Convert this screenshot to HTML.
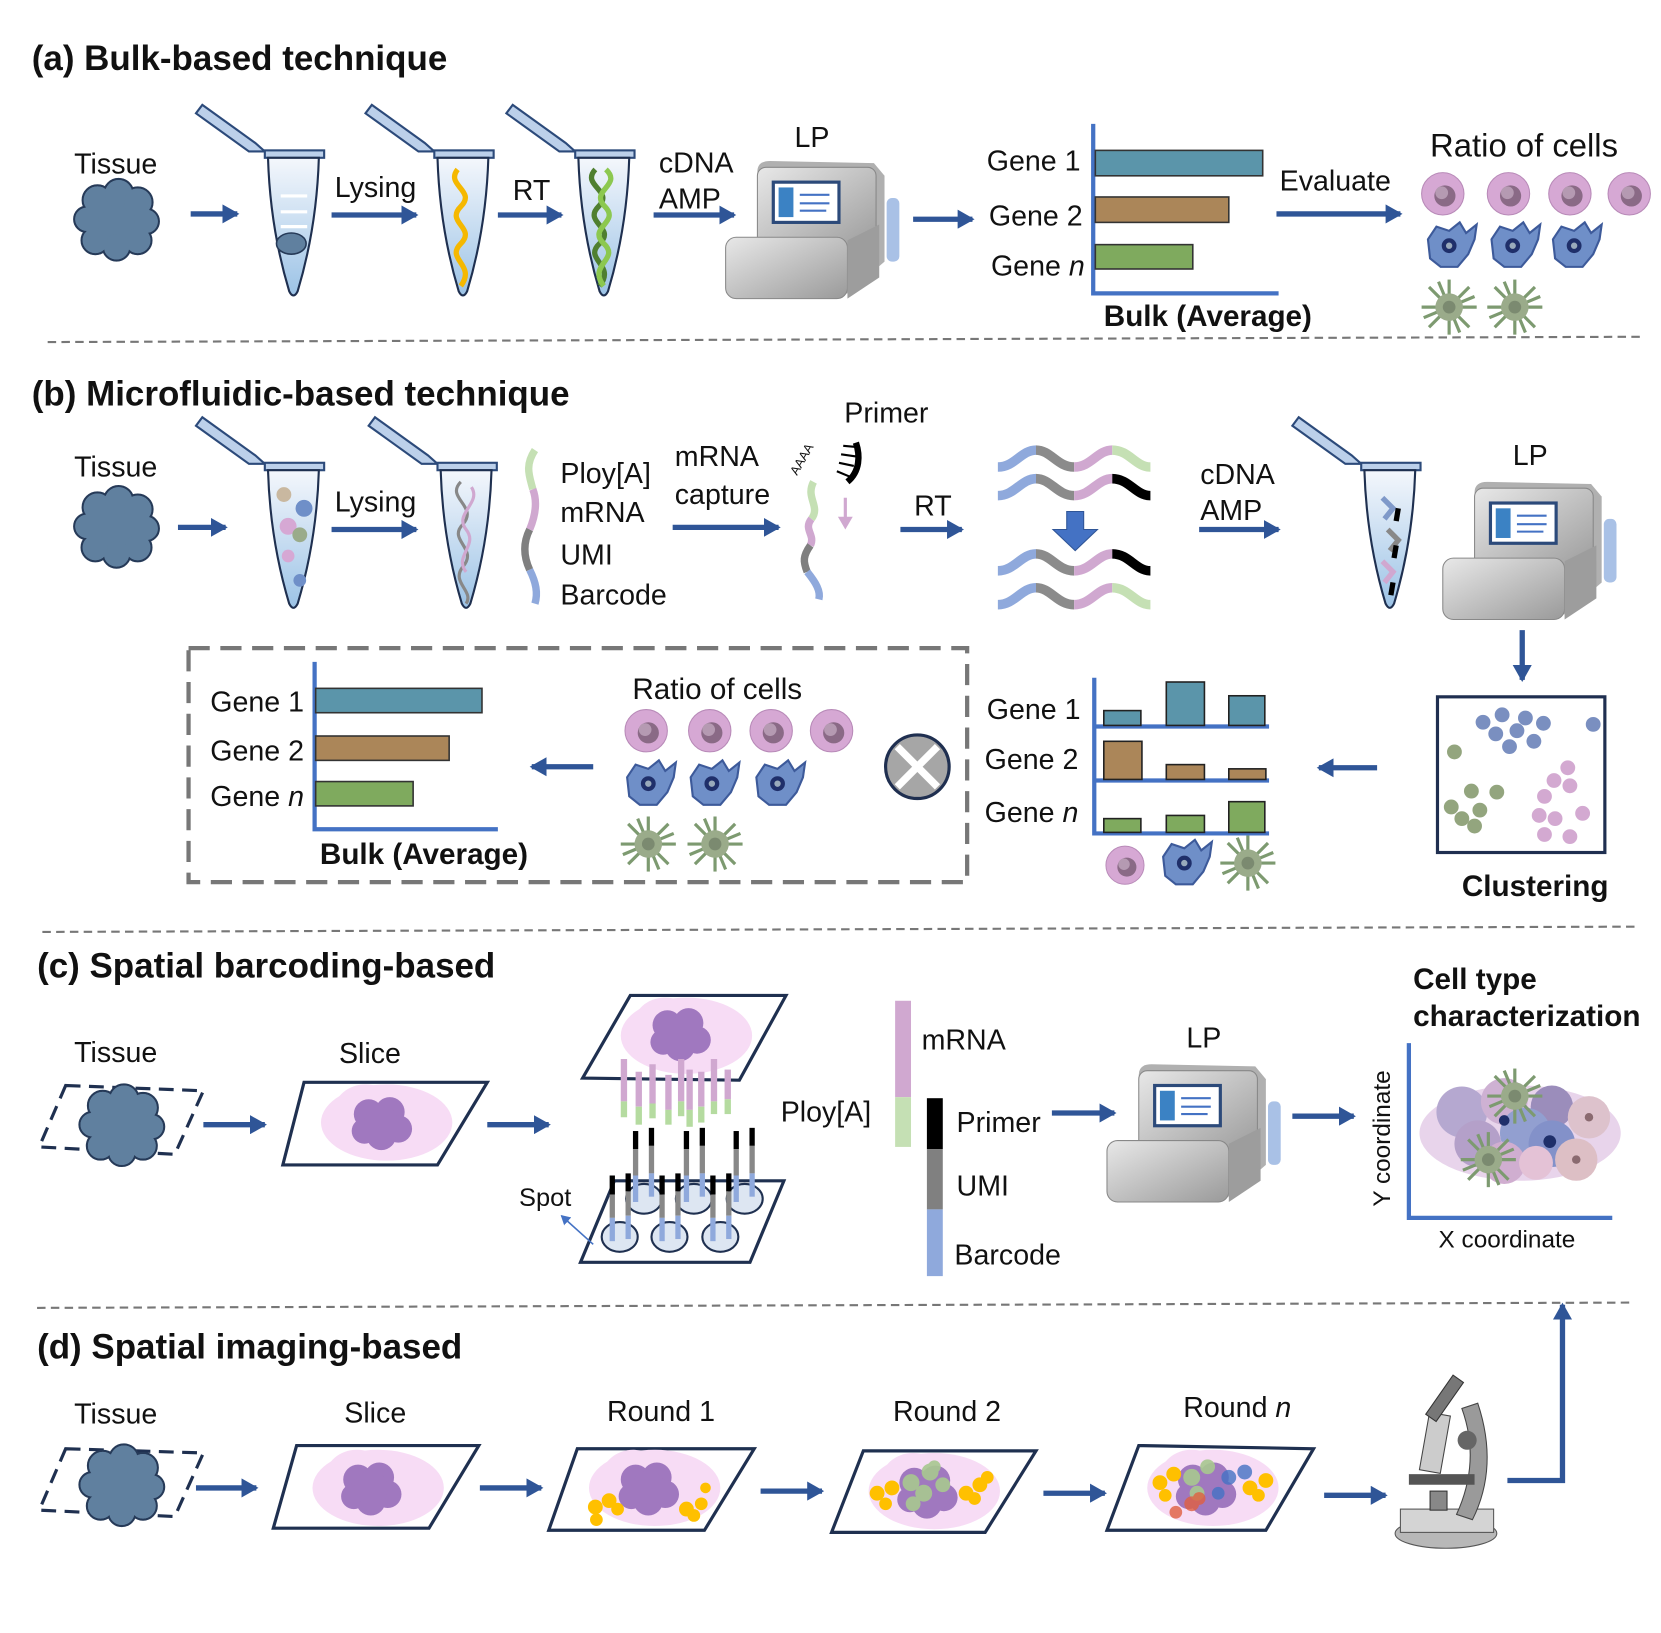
<!DOCTYPE html>
<html><head><meta charset="utf-8"><style>html,body{margin:0;padding:0;background:#fff}svg{display:block}text{font-family:"Liberation Sans",sans-serif;fill:#111}</style></head><body>
<svg width="1661" height="1633" viewBox="0 0 1568 1542" preserveAspectRatio="none" xmlns="http://www.w3.org/2000/svg">
<defs>
<marker id="ar" markerUnits="userSpaceOnUse" markerWidth="18" markerHeight="18" refX="14" refY="9" orient="auto"><path d="M0,0 L16,9 L0,18 z" fill="#2f5597"/></marker>
<marker id="ars" markerUnits="userSpaceOnUse" markerWidth="10" markerHeight="10" refX="8" refY="5" orient="auto"><path d="M0,0 L9,5 L0,10 z" fill="#4472c4"/></marker>
<linearGradient id="tg" x1="0" y1="0" x2="0" y2="1"><stop offset="0" stop-color="#f4f7fc"/><stop offset="1" stop-color="#9cc3e6"/></linearGradient>
<linearGradient id="mg" x1="0" y1="0" x2="1" y2="1"><stop offset="0" stop-color="#e8e8e8"/><stop offset="1" stop-color="#9a9a9a"/></linearGradient>
<g id="tube">
<polygon points="-27,-2 -42,-2 -92,-38 -86,-46 -36,-10" fill="#bcd0ea" stroke="#2c4a7a" stroke-width="2"/>
<rect x="-27" y="-3" width="56" height="7" fill="#bcd0ea" stroke="#2c4a7a" stroke-width="2"/>
<path d="M-24,4 L24,4 Q22,70 4,130 Q0,138 -4,130 Q-22,70 -24,4 Z" fill="url(#tg)" stroke="#1f3050" stroke-width="2"/>
</g>
<g id="lp">
<path d="M30,10 Q30,0 42,0 L140,2 L150,14 L150,95 L115,125 L30,125 Z" fill="#b0b0b0"/>
<rect x="30" y="6" width="112" height="80" rx="8" fill="url(#mg)" stroke="#888"/>
<rect x="45" y="20" width="62" height="38" fill="#fff" stroke="#2c4a7a" stroke-width="3"/>
<rect x="50" y="25" width="14" height="28" fill="#3b82c4"/>
<line x1="70" y1="32" x2="98" y2="32" stroke="#4472c4" stroke-width="2"/><line x1="70" y1="40" x2="98" y2="40" stroke="#4472c4" stroke-width="2"/><line x1="70" y1="47" x2="95" y2="47" stroke="#4472c4" stroke-width="2"/>
<rect x="0" y="72" width="115" height="58" rx="10" fill="url(#mg)" stroke="#888"/>
<path d="M115,75 L145,60 L145,110 L115,130 Z" fill="#9d9d9d"/>
<rect x="152" y="35" width="12" height="60" rx="5" fill="#a9c1e6"/>
</g>
<g id="blob" fill="#60809f" stroke="#263a58" stroke-width="2">
<circle cx="-18" cy="-18" r="14"/><circle cx="2" cy="-24" r="14"/><circle cx="20" cy="-16" r="14"/><circle cx="28" cy="2" r="12"/><circle cx="20" cy="20" r="13"/><circle cx="0" cy="26" r="13"/><circle cx="-20" cy="20" r="13"/><circle cx="-28" cy="0" r="12"/>
<circle cx="0" cy="0" r="24" stroke="none"/>
<g stroke="none"><circle cx="-18" cy="-18" r="13"/><circle cx="2" cy="-24" r="13"/><circle cx="20" cy="-16" r="13"/><circle cx="28" cy="2" r="11"/><circle cx="20" cy="20" r="12"/><circle cx="0" cy="26" r="12"/><circle cx="-20" cy="20" r="12"/><circle cx="-28" cy="0" r="11"/></g>
</g>
<g id="pc"><circle r="20" fill="#d6a8d4" stroke="#b88ab8"/><circle cx="2" cy="2" r="10" fill="#8a6a86"/><circle cx="-1" cy="-1" r="6" fill="#b59ab2"/></g>
<g id="bc"><path d="M-20,-6 L-12,-18 L0,-14 L10,-22 L16,-12 L26,-20 L24,-6 L18,8 L8,20 L-8,20 L-18,12 Z" fill="#6f8fc8" stroke="#3d5a9a" stroke-width="2"/><circle r="7" fill="#1f2f6a"/><circle r="3" fill="#9ab"/></g>
<g id="gc" stroke="#7d9a70" stroke-width="3"><line x1="-26" y1="0" x2="26" y2="0"/><line x1="0" y1="-26" x2="0" y2="26"/><line x1="-19" y1="-19" x2="19" y2="19"/><line x1="-19" y1="19" x2="19" y2="-19"/><line x1="-10" y1="-24" x2="10" y2="24"/><line x1="-24" y1="10" x2="24" y2="-10"/><circle r="13" fill="#9aab8a" stroke="none"/><circle r="6" fill="#7b8a70" stroke="none"/></g>
<g id="cloud"><ellipse cx="0" cy="0" rx="62" ry="36" fill="#f7dcf5"/><ellipse cx="-20" cy="-10" rx="30" ry="26" fill="#f7dcf5"/></g>
<g id="pblob" fill="#a078bf"><circle cx="-12" cy="-8" r="14"/><circle cx="8" cy="-10" r="14"/><circle cx="16" cy="6" r="13"/><circle cx="0" cy="12" r="14"/><circle cx="-16" cy="8" r="12"/><circle r="16"/></g>
<g id="wave" fill="none" stroke-width="9"><path d="M0,16 C16,16 22,0 36,0" stroke="#8fa9dc"/><path d="M36,0 C50,0 56,16 72,16" stroke="#8b8b8b"/><path d="M72,16 C88,16 94,0 108,0" stroke="#d0a8d0"/></g>
</defs>

<!-- (a) -->
<text x="30" y="66" font-size="33" font-weight="bold">(a) Bulk-based technique</text>
<text x="70" y="164" font-size="27">Tissue</text>
<use href="#blob" x="110" y="207"/>
<g stroke="#2f5597" stroke-width="5" marker-end="url(#ar)" fill="none">
<line x1="180" y1="202" x2="224" y2="202"/><line x1="313" y1="203" x2="393" y2="203"/><line x1="470" y1="203" x2="530" y2="203"/><line x1="617" y1="203" x2="693" y2="203"/><line x1="862" y1="207" x2="918" y2="207"/><line x1="1205" y1="202" x2="1322" y2="202"/>
</g>
<use href="#tube" x="277" y="145"/>
<g stroke="#fff" stroke-width="3"><line x1="265" y1="185" x2="290" y2="185"/><line x1="265" y1="200" x2="290" y2="200"/><line x1="265" y1="214" x2="290" y2="214"/></g>
<g transform="translate(275,230)" fill="#60809f" stroke="#263a58" stroke-width="1.5"><ellipse rx="14" ry="10"/></g>
<text x="316" y="186" font-size="27">Lysing</text>
<use href="#tube" x="437" y="145"/>
<path d="M432,160 C420,175 450,180 435,195 C420,210 450,215 435,230 C420,245 450,250 435,270" stroke="#f5b800" stroke-width="5" fill="none"/>
<text x="484" y="189" font-size="27">RT</text>
<use href="#tube" x="570" y="145"/>
<path d="M562,160 C548,175 580,180 565,195 C550,210 582,215 566,230 C550,245 582,250 566,270" stroke="#4f7f30" stroke-width="5" fill="none"/>
<path d="M572,160 C588,175 556,180 571,195 C586,210 554,215 570,230 C586,245 554,250 570,270" stroke="#8cc850" stroke-width="5" fill="none"/>
<text x="622" y="163" font-size="27">cDNA</text><text x="622" y="197" font-size="27">AMP</text>
<text x="750" y="139" font-size="27">LP</text>
<use href="#lp" x="685" y="152"/>
<g font-size="27" text-anchor="end"><text x="1020" y="161">Gene 1</text><text x="1022" y="213">Gene 2</text><text x="1024" y="260">Gene <tspan font-style="italic">n</tspan></text></g>
<path d="M1032,117 L1032,277 L1207,277" stroke="#4472c4" stroke-width="4" fill="none"/>
<rect x="1034" y="142" width="158" height="24" fill="#5b95aa" stroke="#333" stroke-width="1.5"/>
<rect x="1034" y="186" width="126" height="24" fill="#ab8659" stroke="#333" stroke-width="1.5"/>
<rect x="1034" y="231" width="92" height="23" fill="#7faa5e" stroke="#333" stroke-width="1.5"/>
<text x="1042" y="308" font-size="28" font-weight="bold">Bulk (Average)</text>
<text x="1208" y="180" font-size="27">Evaluate</text>
<text x="1350" y="148" font-size="31">Ratio of cells</text>
<use href="#pc" x="1362" y="183"/><use href="#pc" x="1424" y="183"/><use href="#pc" x="1482" y="183"/><use href="#pc" x="1538" y="183"/>
<use href="#bc" x="1368" y="232"/><use href="#bc" x="1428" y="232"/><use href="#bc" x="1486" y="232"/>
<use href="#gc" x="1368" y="290"/><use href="#gc" x="1430" y="290"/>
<line x1="45" y1="323" x2="1548" y2="318" stroke="#777" stroke-width="2" stroke-dasharray="8,5"/>

<!-- (b) -->
<text x="30" y="383" font-size="33" font-weight="bold">(b) Microfluidic-based technique</text>
<text x="70" y="450" font-size="27">Tissue</text>
<use href="#blob" x="110" y="497"/>
<g stroke="#2f5597" stroke-width="5" marker-end="url(#ar)" fill="none">
<line x1="168" y1="498" x2="213" y2="498"/><line x1="313" y1="500" x2="393" y2="500"/><line x1="635" y1="498" x2="735" y2="498"/><line x1="850" y1="500" x2="908" y2="500"/><line x1="1132" y1="500" x2="1207" y2="500"/><line x1="1437" y1="595" x2="1437" y2="642"/><line x1="1300" y1="725" x2="1245" y2="725"/><line x1="560" y1="724" x2="502" y2="724"/>
</g>
<use href="#tube" x="277" y="440"/>
<circle cx="268" cy="467" r="7" fill="#c9b8a0"/><circle cx="287" cy="480" r="8" fill="#6f8fc8"/><circle cx="272" cy="497" r="8" fill="#d6a8d4"/><circle cx="283" cy="505" r="7" fill="#9aab8a"/><circle cx="272" cy="525" r="6" fill="#d6a8d4"/><circle cx="283" cy="548" r="6" fill="#6f8fc8"/>
<text x="316" y="483" font-size="27">Lysing</text>
<use href="#tube" x="440" y="440"/>
<path d="M435,455 C420,470 452,478 437,495 C422,510 452,518 437,535 C425,550 448,558 440,570" stroke="#888" stroke-width="3" fill="none"/>
<path d="M445,460 C455,475 428,485 440,500 C452,515 428,525 440,540" stroke="#d0a8d0" stroke-width="3" fill="none"/>
<g fill="none" stroke-width="7"><path d="M505,425 C495,440 500,450 503,462" stroke="#c5e0b4"/><path d="M503,462 C508,475 505,488 500,500" stroke="#d0a8d0"/><path d="M500,500 C494,512 494,525 500,538" stroke="#7f7f7f"/><path d="M500,538 C506,550 508,560 505,570" stroke="#8fa9dc"/></g>
<g font-size="27"><text x="529" y="456">Ploy[A]</text><text x="529" y="493">mRNA</text><text x="529" y="533">UMI</text><text x="529" y="571">Barcode</text>
<text x="637" y="440">mRNA</text><text x="637" y="476">capture</text><text x="797" y="399">Primer</text><text x="863" y="487">RT</text><text x="1133" y="457">cDNA</text><text x="1133" y="491">AMP</text><text x="1428" y="439">LP</text></g>
<g fill="none" stroke-width="7"><path d="M768,455 C760,470 775,478 766,490" stroke="#c5e0b4"/><path d="M766,490 C758,500 770,505 765,515" stroke="#d0a8d0"/><path d="M765,515 C758,525 758,530 762,540" stroke="#7f7f7f"/><path d="M762,540 C770,550 775,558 773,566" stroke="#8fa9dc"/></g>
<text x="744" y="445" font-size="12" transform="rotate(-60 752 440)">AAAA</text>
<path d="M800,455 C812,445 812,430 808,418" stroke="#000" stroke-width="6" fill="none"/>
<g stroke="#000" stroke-width="2"><line x1="790" y1="445" x2="802" y2="450"/><line x1="792" y1="437" x2="806" y2="440"/><line x1="794" y1="429" x2="808" y2="431"/><line x1="796" y1="421" x2="808" y2="422"/></g>
<line x1="798" y1="470" x2="798" y2="492" stroke="#d0a8d0" stroke-width="3"/><path d="M791,488 L798,500 L805,488 Z" fill="#d0a8d0"/>
<g><use href="#wave" x="942" y="425"/><path d="M1050,425 C1066,425 1072,441 1086,441" stroke="#c5e0b4" stroke-width="9" fill="none"/></g>
<g><use href="#wave" x="942" y="452"/><path d="M1050,452 C1066,452 1072,468 1086,468" stroke="#000" stroke-width="9" fill="none"/></g>
<g><use href="#wave" x="942" y="523"/><path d="M1050,523 C1066,523 1072,539 1086,539" stroke="#000" stroke-width="9" fill="none"/></g>
<g><use href="#wave" x="942" y="555"/><path d="M1050,555 C1066,555 1072,571 1086,571" stroke="#c5e0b4" stroke-width="9" fill="none"/></g>
<path d="M1007,483 L1023,483 L1023,500 L1036,500 L1015,520 L994,500 L1007,500 Z" fill="#4472c4" stroke="#2f5597"/>
<use href="#tube" x="1312" y="440"/>
<g stroke-width="5" fill="none"><path d="M1305,470 l10,10 l-8,10" stroke="#7f99c9"/><path d="M1310,500 l10,10 l-8,10" stroke="#888"/><path d="M1305,530 l10,10 l-8,10" stroke="#d0a8d0"/><line x1="1320" y1="480" x2="1318" y2="492" stroke="#000"/><line x1="1318" y1="515" x2="1316" y2="527" stroke="#000"/><line x1="1315" y1="550" x2="1313" y2="562" stroke="#000"/></g>
<use href="#lp" x="1362" y="455"/>
<rect x="1357" y="658" width="158" height="147" fill="#fff" stroke="#1f2f50" stroke-width="3"/>
<g fill="#7a8fc0"><circle cx="1400" cy="682" r="7"/><circle cx="1418" cy="675" r="7"/><circle cx="1440" cy="678" r="7"/><circle cx="1457" cy="683" r="7"/><circle cx="1412" cy="693" r="7"/><circle cx="1432" cy="690" r="7"/><circle cx="1448" cy="700" r="7"/><circle cx="1425" cy="705" r="7"/><circle cx="1504" cy="684" r="7"/></g>
<g fill="#93a57e"><circle cx="1373" cy="710" r="7"/><circle cx="1389" cy="747" r="7"/><circle cx="1413" cy="748" r="7"/><circle cx="1370" cy="762" r="7"/><circle cx="1380" cy="773" r="7"/><circle cx="1397" cy="765" r="7"/><circle cx="1392" cy="780" r="7"/></g>
<g fill="#d3a9d1"><circle cx="1480" cy="725" r="7"/><circle cx="1467" cy="737" r="7"/><circle cx="1482" cy="742" r="7"/><circle cx="1458" cy="752" r="7"/><circle cx="1453" cy="770" r="7"/><circle cx="1468" cy="773" r="7"/><circle cx="1494" cy="768" r="7"/><circle cx="1458" cy="788" r="7"/><circle cx="1482" cy="790" r="7"/></g>
<text x="1380" y="846" font-size="28" font-weight="bold">Clustering</text>
<g font-size="27" text-anchor="end"><text x="1020" y="679">Gene 1</text><text x="1018" y="726">Gene 2</text><text x="1018" y="776">Gene <tspan font-style="italic">n</tspan></text></g>
<g stroke="#4472c4" stroke-width="4" fill="none"><path d="M1033,640 L1033,787 L1198,787"/><line x1="1033" y1="686" x2="1198" y2="686"/><line x1="1033" y1="737" x2="1198" y2="737"/></g>
<g stroke="#222" stroke-width="1.5"><rect x="1042" y="671" width="35" height="14" fill="#5b95aa"/><rect x="1101" y="644" width="36" height="41" fill="#5b95aa"/><rect x="1160" y="657" width="34" height="28" fill="#5b95aa"/>
<rect x="1042" y="700" width="36" height="36" fill="#ab8659"/><rect x="1101" y="722" width="36" height="14" fill="#ab8659"/><rect x="1160" y="726" width="35" height="10" fill="#ab8659"/>
<rect x="1042" y="773" width="35" height="13" fill="#7faa5e"/><rect x="1101" y="770" width="36" height="16" fill="#7faa5e"/><rect x="1160" y="757" width="34" height="29" fill="#7faa5e"/></g>
<use href="#pc" x="1062" y="817" transform="translate(1062 817) scale(0.9) translate(-1062 -817)"/><use href="#bc" x="1118" y="815"/><use href="#gc" x="1178" y="815"/>
<circle cx="866" cy="724" r="30" fill="#a6a6a6" stroke="#1f2f50" stroke-width="3"/>
<g stroke="#fff" stroke-width="7"><line x1="847" y1="705" x2="885" y2="743"/><line x1="885" y1="705" x2="847" y2="743"/></g>
<rect x="178" y="612" width="735" height="221" fill="none" stroke="#777" stroke-width="4" stroke-dasharray="20,10"/>
<g font-size="27" text-anchor="end"><text x="287" y="672">Gene 1</text><text x="287" y="718">Gene 2</text><text x="287" y="761">Gene <tspan font-style="italic">n</tspan></text></g>
<path d="M297,625 L297,783 L470,783" stroke="#4472c4" stroke-width="4" fill="none"/>
<rect x="298" y="650" width="157" height="23" fill="#5b95aa" stroke="#333" stroke-width="1.5"/>
<rect x="298" y="695" width="126" height="23" fill="#ab8659" stroke="#333" stroke-width="1.5"/>
<rect x="298" y="738" width="92" height="23" fill="#7faa5e" stroke="#333" stroke-width="1.5"/>
<text x="302" y="816" font-size="28" font-weight="bold">Bulk (Average)</text>
<text x="597" y="660" font-size="28">Ratio of cells</text>
<use href="#pc" x="610" y="690"/><use href="#pc" x="670" y="690"/><use href="#pc" x="728" y="690"/><use href="#pc" x="785" y="690"/>
<use href="#bc" x="612" y="740"/><use href="#bc" x="672" y="740"/><use href="#bc" x="734" y="740"/>
<use href="#gc" x="612" y="797"/><use href="#gc" x="675" y="797"/>
<line x1="40" y1="880" x2="1545" y2="875" stroke="#777" stroke-width="2" stroke-dasharray="8,5"/>

<!-- (c) -->
<text x="35" y="923" font-size="33" font-weight="bold">(c) Spatial barcoding-based</text>
<text x="70" y="1003" font-size="27">Tissue</text>
<polygon points="62,1025 192,1030 165,1090 37,1083" fill="none" stroke="#1f3050" stroke-width="3" stroke-dasharray="14,8"/>
<use href="#blob" x="115" y="1062"/>
<g stroke="#2f5597" stroke-width="5" marker-end="url(#ar)" fill="none">
<line x1="192" y1="1062" x2="250" y2="1062"/><line x1="460" y1="1062" x2="518" y2="1062"/><line x1="993" y1="1051" x2="1052" y2="1051"/><line x1="1220" y1="1054" x2="1278" y2="1054"/>
<line x1="185" y1="1405" x2="242" y2="1405"/><line x1="453" y1="1405" x2="511" y2="1405"/><line x1="718" y1="1408" x2="776" y2="1408"/><line x1="985" y1="1410" x2="1043" y2="1410"/><line x1="1250" y1="1412" x2="1308" y2="1412"/>
<polyline points="1423,1398 1475,1398 1475,1232"/>
</g>
<text x="320" y="1004" font-size="27">Slice</text>
<polygon points="287,1022 460,1022 413,1100 267,1100" fill="#fff" stroke="#1f3050" stroke-width="3"/>
<use href="#cloud" x="365" y="1060"/><use href="#pblob" x="360" y="1060"/>
<polygon points="595,940 742,940 698,1020 550,1018" fill="#fff" stroke="#1f3050" stroke-width="3"/>
<use href="#cloud" x="648" y="978"/><use href="#pblob" x="642" y="976"/>
<g stroke-width="6"><g stroke="#d0a8d0"><line x1="589" y1="1000" x2="589" y2="1040"/><line x1="603" y1="1012" x2="603" y2="1045"/><line x1="616" y1="1005" x2="616" y2="1042"/><line x1="631" y1="1015" x2="631" y2="1048"/><line x1="643" y1="1000" x2="643" y2="1040"/><line x1="651" y1="1010" x2="651" y2="1048"/><line x1="662" y1="1012" x2="662" y2="1045"/><line x1="674" y1="1000" x2="674" y2="1040"/><line x1="687" y1="1010" x2="687" y2="1038"/></g>
<g stroke="#b5dba0"><line x1="589" y1="1040" x2="589" y2="1055"/><line x1="603" y1="1045" x2="603" y2="1062"/><line x1="616" y1="1042" x2="616" y2="1056"/><line x1="631" y1="1048" x2="631" y2="1062"/><line x1="643" y1="1040" x2="643" y2="1054"/><line x1="651" y1="1048" x2="651" y2="1064"/><line x1="662" y1="1045" x2="662" y2="1060"/><line x1="674" y1="1040" x2="674" y2="1052"/><line x1="687" y1="1038" x2="687" y2="1052"/></g></g>
<polygon points="580,1115 740,1115 708,1192 548,1192" fill="#fff" stroke="#1f3050" stroke-width="3"/>
<g fill="#dde6f2" stroke="#1f3050" stroke-width="2"><ellipse cx="608" cy="1132" rx="17" ry="14"/><ellipse cx="655" cy="1132" rx="17" ry="14"/><ellipse cx="703" cy="1132" rx="17" ry="14"/><ellipse cx="585" cy="1168" rx="17" ry="14"/><ellipse cx="632" cy="1168" rx="17" ry="14"/><ellipse cx="680" cy="1168" rx="17" ry="14"/></g>
<g stroke-width="5">
<g><line x1="600" y1="1068" x2="600" y2="1085" stroke="#000"/><line x1="600" y1="1085" x2="600" y2="1110" stroke="#888"/><line x1="600" y1="1110" x2="600" y2="1135" stroke="#8fa9dc"/></g>
<g><line x1="615" y1="1065" x2="615" y2="1082" stroke="#000"/><line x1="615" y1="1082" x2="615" y2="1108" stroke="#888"/><line x1="615" y1="1108" x2="615" y2="1130" stroke="#8fa9dc"/></g>
<g><line x1="648" y1="1068" x2="648" y2="1085" stroke="#000"/><line x1="648" y1="1085" x2="648" y2="1110" stroke="#888"/><line x1="648" y1="1110" x2="648" y2="1135" stroke="#8fa9dc"/></g>
<g><line x1="663" y1="1065" x2="663" y2="1082" stroke="#000"/><line x1="663" y1="1082" x2="663" y2="1108" stroke="#888"/><line x1="663" y1="1108" x2="663" y2="1130" stroke="#8fa9dc"/></g>
<g><line x1="695" y1="1068" x2="695" y2="1085" stroke="#000"/><line x1="695" y1="1085" x2="695" y2="1110" stroke="#888"/><line x1="695" y1="1110" x2="695" y2="1135" stroke="#8fa9dc"/></g>
<g><line x1="710" y1="1065" x2="710" y2="1082" stroke="#000"/><line x1="710" y1="1082" x2="710" y2="1108" stroke="#888"/><line x1="710" y1="1108" x2="710" y2="1130" stroke="#8fa9dc"/></g>
<g><line x1="578" y1="1110" x2="578" y2="1128" stroke="#000"/><line x1="578" y1="1128" x2="578" y2="1150" stroke="#888"/><line x1="578" y1="1150" x2="578" y2="1172" stroke="#8fa9dc"/></g>
<g><line x1="593" y1="1108" x2="593" y2="1125" stroke="#000"/><line x1="593" y1="1125" x2="593" y2="1148" stroke="#888"/><line x1="593" y1="1148" x2="593" y2="1170" stroke="#8fa9dc"/></g>
<g><line x1="625" y1="1110" x2="625" y2="1128" stroke="#000"/><line x1="625" y1="1128" x2="625" y2="1150" stroke="#888"/><line x1="625" y1="1150" x2="625" y2="1172" stroke="#8fa9dc"/></g>
<g><line x1="640" y1="1108" x2="640" y2="1125" stroke="#000"/><line x1="640" y1="1125" x2="640" y2="1148" stroke="#888"/><line x1="640" y1="1148" x2="640" y2="1170" stroke="#8fa9dc"/></g>
<g><line x1="673" y1="1110" x2="673" y2="1128" stroke="#000"/><line x1="673" y1="1128" x2="673" y2="1150" stroke="#888"/><line x1="673" y1="1150" x2="673" y2="1172" stroke="#8fa9dc"/></g>
<g><line x1="688" y1="1108" x2="688" y2="1125" stroke="#000"/><line x1="688" y1="1125" x2="688" y2="1148" stroke="#888"/><line x1="688" y1="1148" x2="688" y2="1170" stroke="#8fa9dc"/></g>
</g>
<text x="490" y="1139" font-size="24">Spot</text>
<line x1="560" y1="1175" x2="530" y2="1148" stroke="#4472c4" stroke-width="1.5" marker-end="url(#ars)"/>
<text x="737" y="1059" font-size="27">Ploy[A]</text>
<rect x="845" y="945" width="15" height="91" fill="#d0a8d0"/><rect x="845" y="1036" width="15" height="47" fill="#c5e0b4"/>
<rect x="875" y="1037" width="15" height="48" fill="#000"/><rect x="875" y="1085" width="15" height="57" fill="#808080"/><rect x="875" y="1142" width="15" height="63" fill="#8fa9dc"/>
<g font-size="27"><text x="870" y="991">mRNA</text><text x="903" y="1069">Primer</text><text x="903" y="1129">UMI</text><text x="901" y="1194">Barcode</text><text x="1120" y="989">LP</text></g>
<use href="#lp" x="1045" y="1005"/>
<text x="1334" y="934" font-size="28" font-weight="bold">Cell type</text>
<text x="1334" y="969" font-size="28" font-weight="bold">characterization</text>
<path d="M1330,985 L1330,1150 L1522,1150" stroke="#4472c4" stroke-width="4" fill="none"/>
<text x="1312" y="1075" font-size="23" text-anchor="middle" transform="rotate(-90 1312 1075)">Y coordinate</text>
<text x="1358" y="1178" font-size="23">X coordinate</text>
<g opacity="0.85"><ellipse cx="1435" cy="1070" rx="95" ry="45" fill="#e4cde8"/>
<circle cx="1380" cy="1050" r="24" fill="#a99ac8"/><circle cx="1420" cy="1040" r="22" fill="#c6a4cc"/><circle cx="1465" cy="1045" r="20" fill="#8a7ab0"/><circle cx="1500" cy="1055" r="20" fill="#d8b8c4"/>
<circle cx="1395" cy="1080" r="22" fill="#a890c0"/><circle cx="1440" cy="1070" r="24" fill="#7f8fc8"/><circle cx="1465" cy="1080" r="22" fill="#6e7ec0"/><circle cx="1420" cy="1098" r="20" fill="#c8a0c8"/><circle cx="1488" cy="1095" r="20" fill="#d8b4bc"/><circle cx="1450" cy="1098" r="16" fill="#e0b8d0"/></g>
<use href="#gc" x="1430" y="1035"/><use href="#gc" x="1405" y="1095"/>
<circle cx="1420" cy="1058" r="5" fill="#1f2f6a"/><circle cx="1463" cy="1078" r="6" fill="#1f2f6a"/><circle cx="1500" cy="1055" r="4" fill="#8a6a70"/><circle cx="1488" cy="1095" r="4" fill="#8a6a70"/>
<line x1="35" y1="1235" x2="1540" y2="1230" stroke="#777" stroke-width="2" stroke-dasharray="8,5"/>

<!-- (d) -->
<text x="35" y="1283" font-size="33" font-weight="bold">(d) Spatial imaging-based</text>
<text x="70" y="1344" font-size="27">Tissue</text>
<polygon points="62,1368 192,1372 165,1432 37,1426" fill="none" stroke="#1f3050" stroke-width="3" stroke-dasharray="14,8"/>
<use href="#blob" x="115" y="1402"/>
<text x="325" y="1343" font-size="27">Slice</text>
<polygon points="280,1365 452,1365 405,1443 258,1443" fill="#fff" stroke="#1f3050" stroke-width="3"/>
<use href="#cloud" x="357" y="1405"/><use href="#pblob" x="350" y="1405"/>
<text x="573" y="1342" font-size="27">Round 1</text>
<polygon points="545,1368 712,1368 665,1445 518,1445" fill="#fff" stroke="#1f3050" stroke-width="3"/>
<use href="#cloud" x="618" y="1405"/><use href="#pblob" x="612" y="1405"/>
<g fill="#ffc000"><circle cx="562" cy="1423" r="7"/><circle cx="575" cy="1417" r="7"/><circle cx="583" cy="1425" r="6"/><circle cx="563" cy="1435" r="6"/><circle cx="648" cy="1425" r="7"/><circle cx="662" cy="1420" r="6"/><circle cx="655" cy="1431" r="6"/><circle cx="666" cy="1405" r="5"/></g>
<text x="843" y="1342" font-size="27">Round 2</text>
<polygon points="815,1370 978,1370 930,1447 785,1447" fill="#fff" stroke="#1f3050" stroke-width="3"/>
<use href="#cloud" x="882" y="1408"/><use href="#pblob" x="875" y="1408"/>
<g fill="#a8c890" opacity="0.9"><circle cx="860" cy="1400" r="8"/><circle cx="878" cy="1390" r="8"/><circle cx="872" cy="1410" r="8"/><circle cx="890" cy="1402" r="7"/><circle cx="862" cy="1420" r="7"/><circle cx="882" cy="1385" r="6"/></g>
<g fill="#ffc000"><circle cx="828" cy="1410" r="7"/><circle cx="842" cy="1405" r="7"/><circle cx="836" cy="1420" r="6"/><circle cx="912" cy="1410" r="7"/><circle cx="925" cy="1402" r="7"/><circle cx="920" cy="1415" r="6"/><circle cx="932" cy="1395" r="6"/></g>
<text x="1117" y="1338" font-size="27">Round <tspan font-style="italic">n</tspan></text>
<polygon points="1075,1365 1240,1368 1195,1445 1045,1445" fill="#fff" stroke="#1f3050" stroke-width="3"/>
<use href="#cloud" x="1145" y="1405"/><use href="#pblob" x="1138" y="1405"/>
<g fill="#a8c890" opacity="0.9"><circle cx="1125" cy="1395" r="8"/><circle cx="1140" cy="1385" r="7"/><circle cx="1130" cy="1410" r="7"/></g>
<g fill="#4472c4" opacity="0.8"><circle cx="1160" cy="1395" r="7"/><circle cx="1175" cy="1390" r="7"/><circle cx="1150" cy="1410" r="6"/></g>
<g fill="#e06040" opacity="0.8"><circle cx="1125" cy="1420" r="7"/><circle cx="1110" cy="1428" r="6"/><circle cx="1132" cy="1415" r="6"/></g>
<g fill="#ffc000"><circle cx="1095" cy="1400" r="7"/><circle cx="1108" cy="1392" r="7"/><circle cx="1100" cy="1412" r="6"/><circle cx="1180" cy="1405" r="7"/><circle cx="1195" cy="1398" r="7"/><circle cx="1188" cy="1412" r="6"/></g>
<g>
<ellipse cx="1365" cy="1448" rx="48" ry="14" fill="#b8b8b8" stroke="#555"/>
<rect x="1322" y="1425" width="88" height="22" fill="#d4d4d4" stroke="#555"/>
<path d="M1375,1430 Q1398,1380 1380,1330 L1395,1325 Q1415,1385 1390,1435 Z" fill="#9a9a9a" stroke="#444"/>
<rect x="1330" y="1392" width="62" height="10" fill="#555"/>
<rect x="1345" y="1335" width="20" height="55" fill="#ccc" stroke="#444" transform="rotate(10 1355 1360)"/>
<rect x="1358" y="1298" width="12" height="45" fill="#777" stroke="#333" transform="rotate(35 1364 1320)"/>
<circle cx="1385" cy="1360" r="9" fill="#666"/>
<rect x="1350" y="1408" width="16" height="18" fill="#888" stroke="#333"/>
</g>
</svg>
</body></html>
